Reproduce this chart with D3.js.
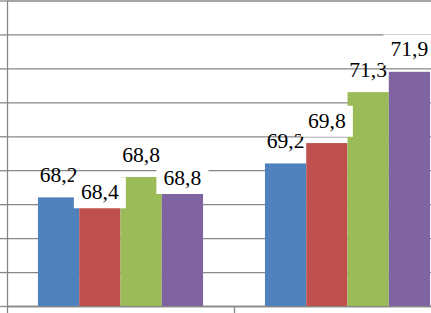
<!DOCTYPE html>
<html>
<head>
<meta charset="utf-8">
<script src="https://cdn.jsdelivr.net/npm/d3@7/dist/d3.min.js"></script>
<style>
  html, body { margin: 0; padding: 0; background: #ffffff; overflow: hidden; }
</style>
</head>
<body>
<svg id="chart"></svg>
<script>
// categories and series (names are outside the cropped picture)
var categories = ["group1", "group2"];
var seriesNames = ["s1", "s2", "s3", "s4"];
var seriesColors = ["#4f81bd", "#c0504d", "#9bbb59", "#8064a2"];

// bar heights as they are drawn in the picture
var barValues = [
    [68.2, 67.9, 68.8, 68.32],
    [69.2, 69.8, 71.3, 71.9]
];
// label texts as printed on the bars
var labelTexts = [
    ["68,2", "68,4", "68,8", "68,8"],
    ["69,2", "69,8", "71,3", "71,9"]
];

var yTicks = [65, 66, 67, 68, 69, 70, 71, 72, 73, 74];

var options = {
    width: 431,
    height: 313,
    plotLeft: 7,
    plotRight: 461,
    plotTop: 0.5,
    plotBottom: 306,
    gapWidth: 1.5,
    gridColor: "#878787",
    labelFont: "Liberation Serif, Times New Roman, serif"
};

// red and purple labels carry a white fill, the others do not
var boxedSeries = [false, true, false, true];
// two labels sit closer to their bars in the original
var tightLabels = { "0-1": true, "0-3": true };

var svg = d3.select("#chart")
    .attr("width", options.width)
    .attr("height", options.height);

var yScale = d3.scaleLinear()
    .domain([yTicks[0], yTicks[yTicks.length - 1]])
    .range([options.plotBottom, options.plotTop]);

var xScale = d3.scaleBand()
    .domain(categories)
    .range([options.plotLeft, options.plotRight])
    .padding(0);

var barWidth = xScale.step() / (seriesNames.length + options.gapWidth);

function styleLines(g) {
    g.selectAll("line, .domain").attr("stroke", options.gridColor).attr("stroke-width", 1.3);
}

// gridlines
svg.append("g")
    .attr("class", "grid")
    .attr("transform", "translate(" + options.plotLeft + ",0)")
    .call(d3.axisLeft(yScale).tickValues(yTicks).tickSize(-(options.plotRight - options.plotLeft)).tickFormat(""))
    .call(function(g){
        g.select(".domain").remove();
        styleLines(g);
    });

// y axis with small outside ticks
svg.append("g")
    .attr("class", "y axis")
    .attr("transform", "translate(" + options.plotLeft + ",0)")
    .call(d3.axisLeft(yScale).tickValues(yTicks).tickSize(7).tickSizeOuter(0).tickFormat(""))
    .call(styleLines);

// category axis, ticks between the groups
var boundaryScale = d3.scaleLinear()
    .domain([0, categories.length])
    .range([options.plotLeft, options.plotRight]);

svg.append("g")
    .attr("class", "x axis")
    .attr("transform", "translate(0," + options.plotBottom + ")")
    .call(d3.axisBottom(boundaryScale).tickValues(d3.range(categories.length + 1)).tickSize(7).tickSizeOuter(0).tickFormat(""))
    .call(styleLines);

// flatten to bar records
var bars = [];
categories.forEach(function(cat, ci){
    seriesNames.forEach(function(s, si){
        var groupLeft = xScale(cat) + (xScale.step() - barWidth * seriesNames.length) / 2;
        bars.push({
            ci: ci,
            si: si,
            x: groupLeft + si * barWidth,
            value: barValues[ci][si],
            label: labelTexts[ci][si]
        });
    });
});

svg.append("g").attr("class", "bars")
    .selectAll("rect")
    .data(bars)
    .enter()
    .append("rect")
    .attr("x", function(d){ return d.x; })
    .attr("y", function(d){ return yScale(d.value); })
    .attr("width", barWidth)
    .attr("height", function(d){ return options.plotBottom - yScale(d.value); })
    .attr("fill", function(d){ return seriesColors[d.si]; });

// labels, drawn series by series so later boxes cover earlier text
var labelG = svg.append("g").attr("class", "labels");
var labelOrder = bars.slice().sort(function(a, b){ return a.si - b.si || a.ci - b.ci; });

labelOrder.forEach(function(d){
    var cx = d.x + barWidth / 2;
    var gap = tightLabels[d.ci + "-" + d.si] ? 8.3 : 15.3;
    var baseline = yScale(d.value) - gap;
    if (boxedSeries[d.si]) {
        labelG.append("rect")
            .attr("x", cx - 26)
            .attr("y", baseline - 22)
            .attr("width", 52)
            .attr("height", 31)
            .attr("fill", "#ffffff");
    }
    labelG.append("text")
        .attr("transform", "translate(" + cx + "," + baseline + ") scale(1.08,1)")
        .attr("text-anchor", "middle")
        .style("font-family", options.labelFont)
        .style("font-size", "20px")
        .attr("fill", "#000")
        .text(d.label);
});
</script>
</body>
</html>
